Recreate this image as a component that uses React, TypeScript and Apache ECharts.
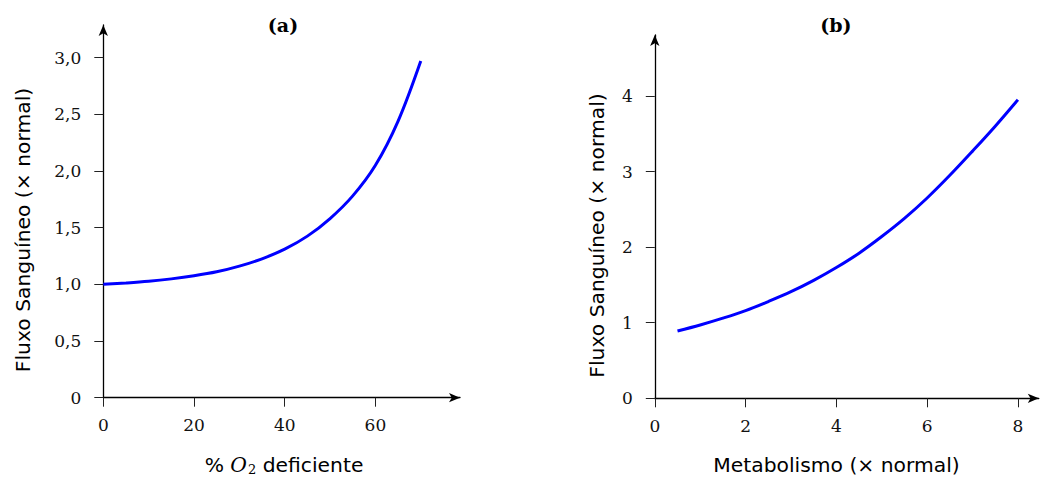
import React, { useEffect, useRef } from "react";
import * as echarts from "echarts";

// (a) % O2 deficiente vs Fluxo sanguíneo
const o2Deficit = [0, 5, 10, 15, 20, 25, 30, 35, 40, 45, 50, 55, 60, 65, 70];
const flowA = [1.0, 1.012, 1.027, 1.048, 1.075, 1.11, 1.16, 1.225, 1.31, 1.425, 1.58, 1.78, 2.05, 2.44, 2.97];

// (b) Metabolismo vs Fluxo sanguíneo
const metabolism = [0.5, 1, 1.5, 2, 2.5, 3, 3.5, 4, 4.5, 5, 5.5, 6, 6.5, 7, 7.5, 8];
const flowB = [0.89, 0.97, 1.06, 1.16, 1.28, 1.41, 1.56, 1.73, 1.92, 2.14, 2.38, 2.65, 2.95, 3.27, 3.6, 3.95];

const xTicksA = [0, 20, 40, 60];
const yTicksA = [0, 0.5, 1, 1.5, 2, 2.5, 3];
const xTicksB = [0, 2, 4, 6, 8];
const yTicksB = [0, 1, 2, 3, 4];

const titleA = "(a)";
const titleB = "(b)";
const yNameA = "Fluxo Sanguíneo (× normal)";
const yNameB = "Fluxo Sanguíneo (× normal)";
const xNameB = "Metabolismo (× normal)";

const SANS = "'DejaVu Sans', sans-serif";
const SERIF = "'DejaVu Serif', serif";

function axisCommon(ticks: number[], fmt: (v: number) => string, isY: boolean) {
  return {
    type: "value" as const,
    min: 0,
    splitLine: { show: false },
    axisLine: {
      show: true,
      onZero: false,
      symbol: ["none", "arrow"],
      symbolSize: [7, 11],
      lineStyle: { color: "#000", width: 1.3 },
    },
    axisTick: {
      show: true,
      length: 9,
      customValues: ticks,
      lineStyle: { color: "#222", width: 1 },
    },
    axisLabel: {
      show: true,
      customValues: ticks,
      formatter: (v: number) => fmt(v),
      margin: isY ? 22 : 19,
      color: "#111",
      fontFamily: SERIF,
      fontSize: 17,
    },
  };
}

export default function App() {
  const ref = useRef<HTMLDivElement>(null);
  useEffect(() => {
    document.body.style.margin = "0";
    if (!ref.current) return;
    const chart = echarts.init(ref.current, undefined, { renderer: "svg" });
    const fmtA = (v: number) => (v === 0 ? "0" : v.toFixed(1).replace(".", ","));
    const fmtInt = (v: number) => String(v);
    chart.setOption({
      animation: false,
      backgroundColor: "#fff",
      grid: [
        { left: 103.3, top: 25, width: 356.7, height: 372.7, outerBoundsMode: "none", containLabel: false },
        { left: 654.8, top: 35, width: 384, height: 363.3, outerBoundsMode: "none", containLabel: false },
      ],
      xAxis: [
        { ...axisCommon(xTicksA, fmtInt, false), gridIndex: 0, max: 78.65 },
        { ...axisCommon(xTicksB, fmtInt, false), gridIndex: 1, max: 8.46 },
      ],
      yAxis: [
        { ...axisCommon(yTicksA, fmtA, true), gridIndex: 0, max: 3.287 },
        { ...axisCommon(yTicksB, fmtInt, true), gridIndex: 1, max: 4.806 },
      ],
      series: [
        {
          type: "line",
          xAxisIndex: 0,
          yAxisIndex: 0,
          data: o2Deficit.map((x, i) => [x, flowA[i]]),
          smooth: 0.35,
          showSymbol: false,
          lineStyle: { color: "#0000ff", width: 3 },
          itemStyle: { color: "#0000ff" },
        },
        {
          type: "line",
          xAxisIndex: 1,
          yAxisIndex: 1,
          data: metabolism.map((x, i) => [x, flowB[i]]),
          smooth: 0.35,
          showSymbol: false,
          lineStyle: { color: "#0000ff", width: 3 },
          itemStyle: { color: "#0000ff" },
        },
      ],
      graphic: [
        {
          type: "text",
          x: 283,
          y: 25,
          style: { text: titleA, fontFamily: SERIF, fontWeight: "bold", fontSize: 19, fill: "#000", align: "center", verticalAlign: "middle" },
        },
        {
          type: "text",
          x: 835.8,
          y: 25,
          style: { text: titleB, fontFamily: SERIF, fontWeight: "bold", fontSize: 19, fill: "#000", align: "center", verticalAlign: "middle" },
        },
        {
          type: "text",
          x: 22.5,
          y: 230,
          rotation: Math.PI / 2,
          style: { text: yNameA, fontFamily: SANS, fontSize: 20.3, fill: "#000", align: "center", verticalAlign: "middle" },
        },
        {
          type: "text",
          x: 597,
          y: 235.5,
          rotation: Math.PI / 2,
          style: { text: yNameB, fontFamily: SANS, fontSize: 20.3, fill: "#000", align: "center", verticalAlign: "middle" },
        },
        {
          type: "text",
          x: 284,
          y: 465,
          style: {
            text: "{n|% }{i|O}{s|2}{n| deficiente}",
            align: "center",
            verticalAlign: "middle",
            fill: "#000",
            rich: {
              n: { fontFamily: SANS, fontSize: 20.3, fill: "#000" },
              i: { fontFamily: SERIF, fontStyle: "italic", fontSize: 20.3, fill: "#000" },
              s: { fontFamily: SERIF, fontSize: 13, fill: "#000", padding: [8, 0, 0, 1] },
            },
          },
        },
        {
          type: "text",
          x: 836.5,
          y: 465,
          style: { text: xNameB, fontFamily: SANS, fontSize: 20.3, fill: "#000", align: "center", verticalAlign: "middle" },
        },
      ],
    });
    return () => chart.dispose();
  }, []);
  return <div ref={ref} style={{ width: 1041, height: 477 }} />;
}
